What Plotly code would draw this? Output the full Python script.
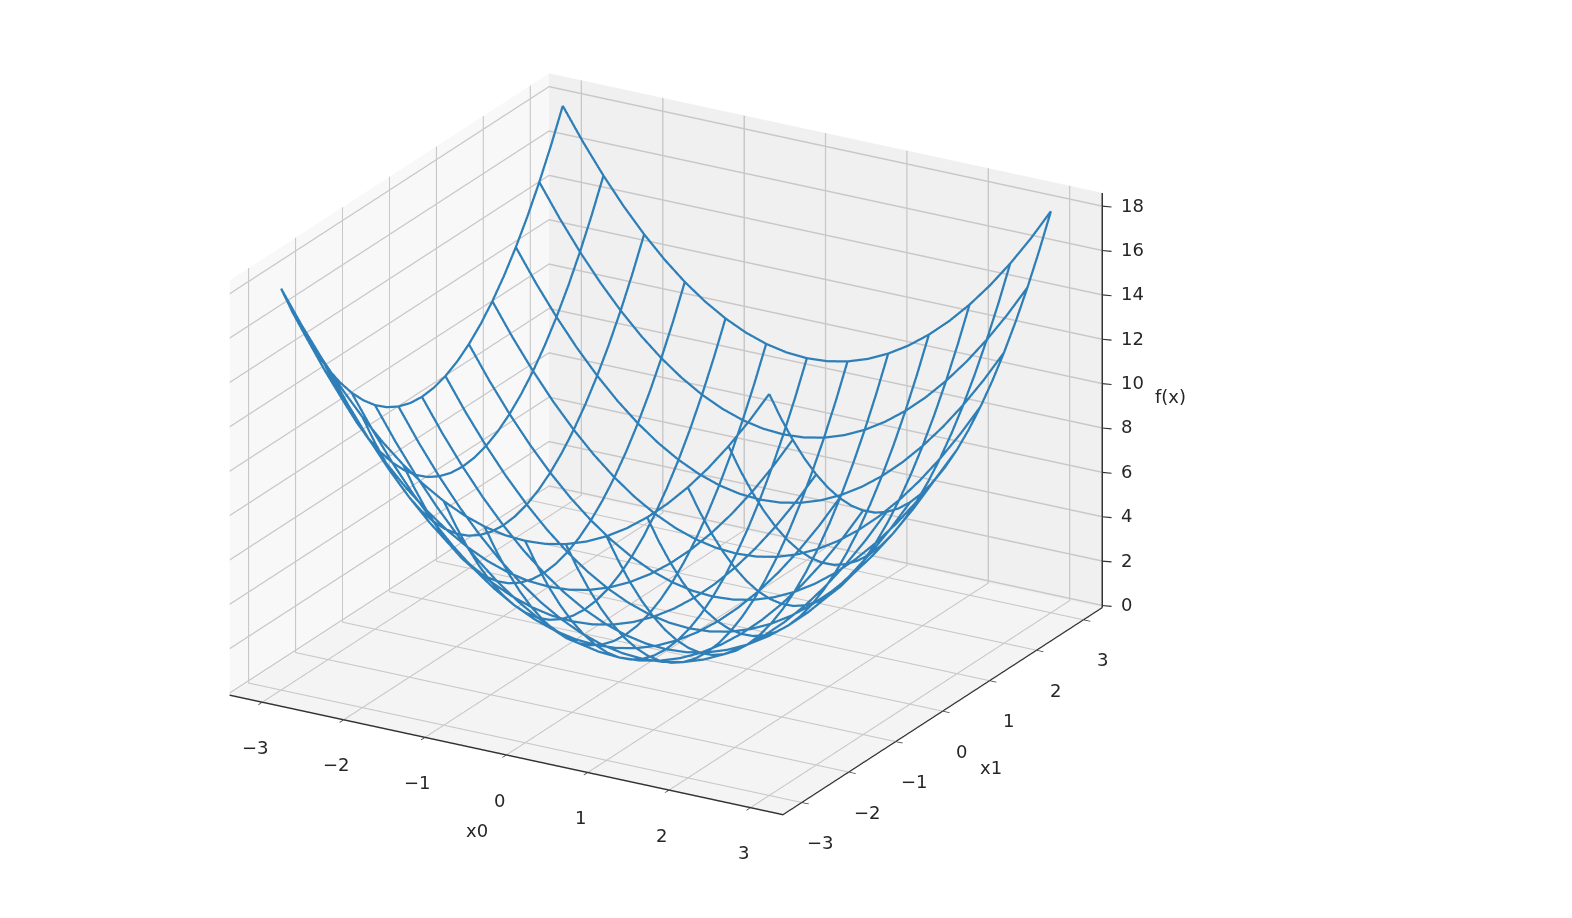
import plotly.graph_objects as go

# grid of the wireframe: x0 and x1 sampled every 0.25, a wire every second sample
x0 = [-3, -2.75, -2.5, -2.25, -2, -1.75, -1.5, -1.25, -1, -0.75, -0.5, -0.25, 0,
      0.25, 0.5, 0.75, 1, 1.25, 1.5, 1.75, 2, 2.25, 2.5, 2.75, 3]
x1 = list(x0)
f_x = [
    [18,16.5625,15.25,14.0625,13,12.0625,11.25,10.5625,10,9.5625,9.25,9.0625,9,9.0625,9.25,9.5625,10,10.5625,11.25,12.0625,13,14.0625,15.25,16.5625,18],
    [16.5625,15.125,13.8125,12.625,11.5625,10.625,9.8125,9.125,8.5625,8.125,7.8125,7.625,7.5625,7.625,7.8125,8.125,8.5625,9.125,9.8125,10.625,11.5625,12.625,13.8125,15.125,16.5625],
    [15.25,13.8125,12.5,11.3125,10.25,9.3125,8.5,7.8125,7.25,6.8125,6.5,6.3125,6.25,6.3125,6.5,6.8125,7.25,7.8125,8.5,9.3125,10.25,11.3125,12.5,13.8125,15.25],
    [14.0625,12.625,11.3125,10.125,9.0625,8.125,7.3125,6.625,6.0625,5.625,5.3125,5.125,5.0625,5.125,5.3125,5.625,6.0625,6.625,7.3125,8.125,9.0625,10.125,11.3125,12.625,14.0625],
    [13,11.5625,10.25,9.0625,8,7.0625,6.25,5.5625,5,4.5625,4.25,4.0625,4,4.0625,4.25,4.5625,5,5.5625,6.25,7.0625,8,9.0625,10.25,11.5625,13],
    [12.0625,10.625,9.3125,8.125,7.0625,6.125,5.3125,4.625,4.0625,3.625,3.3125,3.125,3.0625,3.125,3.3125,3.625,4.0625,4.625,5.3125,6.125,7.0625,8.125,9.3125,10.625,12.0625],
    [11.25,9.8125,8.5,7.3125,6.25,5.3125,4.5,3.8125,3.25,2.8125,2.5,2.3125,2.25,2.3125,2.5,2.8125,3.25,3.8125,4.5,5.3125,6.25,7.3125,8.5,9.8125,11.25],
    [10.5625,9.125,7.8125,6.625,5.5625,4.625,3.8125,3.125,2.5625,2.125,1.8125,1.625,1.5625,1.625,1.8125,2.125,2.5625,3.125,3.8125,4.625,5.5625,6.625,7.8125,9.125,10.5625],
    [10,8.5625,7.25,6.0625,5,4.0625,3.25,2.5625,2,1.5625,1.25,1.0625,1,1.0625,1.25,1.5625,2,2.5625,3.25,4.0625,5,6.0625,7.25,8.5625,10],
    [9.5625,8.125,6.8125,5.625,4.5625,3.625,2.8125,2.125,1.5625,1.125,0.8125,0.625,0.5625,0.625,0.8125,1.125,1.5625,2.125,2.8125,3.625,4.5625,5.625,6.8125,8.125,9.5625],
    [9.25,7.8125,6.5,5.3125,4.25,3.3125,2.5,1.8125,1.25,0.8125,0.5,0.3125,0.25,0.3125,0.5,0.8125,1.25,1.8125,2.5,3.3125,4.25,5.3125,6.5,7.8125,9.25],
    [9.0625,7.625,6.3125,5.125,4.0625,3.125,2.3125,1.625,1.0625,0.625,0.3125,0.125,0.0625,0.125,0.3125,0.625,1.0625,1.625,2.3125,3.125,4.0625,5.125,6.3125,7.625,9.0625],
    [9,7.5625,6.25,5.0625,4,3.0625,2.25,1.5625,1,0.5625,0.25,0.0625,0,0.0625,0.25,0.5625,1,1.5625,2.25,3.0625,4,5.0625,6.25,7.5625,9],
    [9.0625,7.625,6.3125,5.125,4.0625,3.125,2.3125,1.625,1.0625,0.625,0.3125,0.125,0.0625,0.125,0.3125,0.625,1.0625,1.625,2.3125,3.125,4.0625,5.125,6.3125,7.625,9.0625],
    [9.25,7.8125,6.5,5.3125,4.25,3.3125,2.5,1.8125,1.25,0.8125,0.5,0.3125,0.25,0.3125,0.5,0.8125,1.25,1.8125,2.5,3.3125,4.25,5.3125,6.5,7.8125,9.25],
    [9.5625,8.125,6.8125,5.625,4.5625,3.625,2.8125,2.125,1.5625,1.125,0.8125,0.625,0.5625,0.625,0.8125,1.125,1.5625,2.125,2.8125,3.625,4.5625,5.625,6.8125,8.125,9.5625],
    [10,8.5625,7.25,6.0625,5,4.0625,3.25,2.5625,2,1.5625,1.25,1.0625,1,1.0625,1.25,1.5625,2,2.5625,3.25,4.0625,5,6.0625,7.25,8.5625,10],
    [10.5625,9.125,7.8125,6.625,5.5625,4.625,3.8125,3.125,2.5625,2.125,1.8125,1.625,1.5625,1.625,1.8125,2.125,2.5625,3.125,3.8125,4.625,5.5625,6.625,7.8125,9.125,10.5625],
    [11.25,9.8125,8.5,7.3125,6.25,5.3125,4.5,3.8125,3.25,2.8125,2.5,2.3125,2.25,2.3125,2.5,2.8125,3.25,3.8125,4.5,5.3125,6.25,7.3125,8.5,9.8125,11.25],
    [12.0625,10.625,9.3125,8.125,7.0625,6.125,5.3125,4.625,4.0625,3.625,3.3125,3.125,3.0625,3.125,3.3125,3.625,4.0625,4.625,5.3125,6.125,7.0625,8.125,9.3125,10.625,12.0625],
    [13,11.5625,10.25,9.0625,8,7.0625,6.25,5.5625,5,4.5625,4.25,4.0625,4,4.0625,4.25,4.5625,5,5.5625,6.25,7.0625,8,9.0625,10.25,11.5625,13],
    [14.0625,12.625,11.3125,10.125,9.0625,8.125,7.3125,6.625,6.0625,5.625,5.3125,5.125,5.0625,5.125,5.3125,5.625,6.0625,6.625,7.3125,8.125,9.0625,10.125,11.3125,12.625,14.0625],
    [15.25,13.8125,12.5,11.3125,10.25,9.3125,8.5,7.8125,7.25,6.8125,6.5,6.3125,6.25,6.3125,6.5,6.8125,7.25,7.8125,8.5,9.3125,10.25,11.3125,12.5,13.8125,15.25],
    [16.5625,15.125,13.8125,12.625,11.5625,10.625,9.8125,9.125,8.5625,8.125,7.8125,7.625,7.5625,7.625,7.8125,8.125,8.5625,9.125,9.8125,10.625,11.5625,12.625,13.8125,15.125,16.5625],
    [18,16.5625,15.25,14.0625,13,12.0625,11.25,10.5625,10,9.5625,9.25,9.0625,9,9.0625,9.25,9.5625,10,10.5625,11.25,12.0625,13,14.0625,15.25,16.5625,18],
]
x_ticks = [-3, -2, -1, 0, 1, 2, 3]
x_tick_labels = ["\u22123", "\u22122", "\u22121", "0", "1", "2", "3"]
z_ticks = [0, 2, 4, 6, 8, 10, 12, 14, 16, 18]
x_range = [-3.4, 3.4]
z_range = [-0.1, 18.6]

INK = "#333333"
TEXT = dict(size=18, color="#262626")

# wires along x1, then wires along x0, joined with gaps
wx, wy, wz = [], [], []
for i in range(0, len(x0), 2):
    for j in range(len(x1)):
        wx.append(x0[i]); wy.append(x1[j]); wz.append(f_x[i][j])
    wx.append(None); wy.append(None); wz.append(None)
for j in range(0, len(x1), 2):
    for i in range(len(x0)):
        wx.append(x0[i]); wy.append(x1[j]); wz.append(f_x[i][j])
    wx.append(None); wy.append(None); wz.append(None)

fig = go.Figure(go.Scatter3d(x=wx, y=wy, z=wz, mode="lines",
                             line=dict(color="#2e7fb8", width=4.5),
                             hoverinfo="skip", showlegend=False))

# plotly puts the z axis on the left here, so draw it on the right corner
fig.add_trace(go.Scatter3d(x=[x_range[1], x_range[1]], y=[x_range[1], x_range[1]], z=z_range,
                           mode="lines", line=dict(color=INK, width=3),
                           hoverinfo="skip", showlegend=False))

notes = []
for t in z_ticks:
    notes.append(dict(x=x_range[1], y=x_range[1], z=t, text="", showarrow=True,
                      arrowhead=0, arrowwidth=1.2, arrowcolor=INK, ax=11, ay=1, standoff=0))
    notes.append(dict(x=x_range[1], y=x_range[1], z=t, text=str(t), showarrow=False,
                      xanchor="left", xshift=17, yshift=1, font=TEXT))
# native labels sit too tight on the axes, so the x0 and x1 labels go here too
for t, lab in zip(x_ticks, x_tick_labels):
    notes.append(dict(x=t, y=x_range[0], z=z_range[0], text=lab, showarrow=False,
                      xshift=-7, yshift=-45, font=TEXT))
    notes.append(dict(x=x_range[1], y=t, z=z_range[0], text=lab, showarrow=False,
                      xshift=19, yshift=-40, font=TEXT))
notes.append(dict(x=x_range[1], y=x_range[1], z=9, text="f(x)", showarrow=False,
                  xanchor="left", xshift=51, yshift=9, font=TEXT))
notes.append(dict(x=0, y=x_range[0], z=z_range[0], text="x0", showarrow=False,
                  xshift=-29, yshift=-75, font=TEXT))
notes.append(dict(x=x_range[1], y=0, z=z_range[0], text="x1", showarrow=False,
                  xshift=49, yshift=-56, font=TEXT))


def axis(tickvals, rng, pane):
    return dict(title=dict(text=""),
                range=rng, tickvals=tickvals, autorange=False,
                showticklabels=False,
                showbackground=True, backgroundcolor=pane,
                gridcolor="#c8c8c8", gridwidth=3,
                showline=True, linecolor=INK, linewidth=3,
                ticks="outside", ticklen=8, tickcolor=INK, tickwidth=2,
                zeroline=False, showspikes=False)


z_axis = axis(z_ticks, z_range, "#f4f4f4")
z_axis.update(showline=False, ticks="")

fig.update_layout(
    width=1572, height=918,
    paper_bgcolor="white",
    margin=dict(l=0, r=0, t=0, b=0),
    font=dict(family="DejaVu Sans"),
    scene=dict(
        domain=dict(x=[0, 0.837], y=[0.05, 1]),
        xaxis=axis(x_ticks, x_range, "#f8f8f8"),
        yaxis=axis(x_ticks, x_range, "#f0f0f0"),
        zaxis=z_axis,
        aspectmode="manual",
        aspectratio=dict(x=1.465, y=1.465, z=1.026),
        camera=dict(projection=dict(type="orthographic"),
                    eye=dict(x=0.644, y=-1.116, z=0.52)),
        annotations=notes,
    ),
)

fig.write_html("out.html")
